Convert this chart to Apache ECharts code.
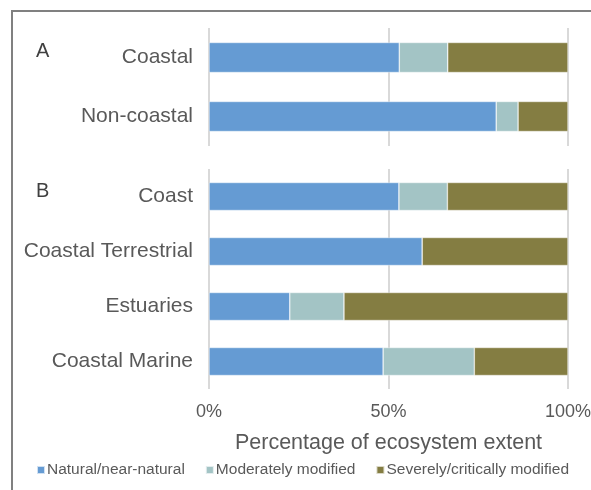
<!DOCTYPE html>
<html>
<head>
<meta charset="utf-8">
<script src="https://cdn.jsdelivr.net/npm/echarts@6/dist/echarts.min.js"></script>
<style>
html,body{margin:0;padding:0;background:#fff;}
#chart{width:591px;height:490px;}
</style>
</head>
<body>
<div id="chart"></div>
<script>
// Panel A
const categoriesA = ['Coastal', 'Non-coastal'];
const naturalA = [53.0, 80.0];
const moderateA = [13.5, 6.1];
const severeA = [33.5, 13.9];
// Panel B
const categoriesB = ['Coast', 'Coastal Terrestrial', 'Estuaries', 'Coastal Marine'];
const naturalB = [52.9, 59.4, 22.5, 48.5];
const moderateB = [13.5, 0, 15.1, 25.4];
const severeB = [33.6, 40.6, 62.4, 26.1];

const seriesNames = ['Natural/near-natural', 'Moderately modified', 'Severely/critically modified'];
const colors = ['#659BD3', '#A3C4C5', '#847D42'];
const axisTitle = 'Percentage of ecosystem extent';
const panelLabels = ['A', 'B'];

const FONT = 'Liberation Sans, Arial, sans-serif';
const chart = echarts.init(document.getElementById('chart'), null, {renderer: 'canvas'});

function mkSeries(name, data, idx, color) {
  return {
    name: name, type: 'bar', stack: 'p' + idx,
    xAxisIndex: idx, yAxisIndex: idx,
    data: data, barWidth: '51%',
    itemStyle: {color: color, borderColor: 'rgba(255,255,255,0.7)', borderWidth: 0.6},
    emphasis: {disabled: true}
  };
}

const xBase = {
  type: 'value', min: 0, max: 100, interval: 50,
  axisLine: {show: false}, axisTick: {show: false},
  splitLine: {show: true, lineStyle: {color: '#d9d9d9', width: 2}}
};
const yBase = {
  type: 'category', inverse: true,
  axisLine: {show: false}, axisTick: {show: false},
  axisLabel: {fontSize: 21, color: '#595959', fontFamily: FONT, margin: 16}
};

chart.setOption({
  animation: false,
  color: colors,
  textStyle: {fontFamily: FONT},
  grid: [
    {left: 209, right: 23, top: 28, height: 118, outerBoundsMode: 'none', containLabel: false},
    {left: 209, right: 23, top: 169, height: 220, outerBoundsMode: 'none', containLabel: false}
  ],
  xAxis: [
    Object.assign({}, xBase, {gridIndex: 0, axisLabel: {show: false}}),
    Object.assign({}, xBase, {gridIndex: 1,
      axisLabel: {show: true, fontSize: 18, color: '#595959', fontFamily: FONT, margin: 14, formatter: '{value}%'},
      name: axisTitle, nameLocation: 'middle', nameGap: 43,
      nameTextStyle: {fontSize: 21.5, color: '#595959', fontFamily: FONT}
    })
  ],
  yAxis: [
    Object.assign({}, yBase, {gridIndex: 0, data: categoriesA}),
    Object.assign({}, yBase, {gridIndex: 1, data: categoriesB})
  ],
  legend: {
    left: 36, top: 462, padding: 0, itemWidth: 8, itemHeight: 8, itemGap: 20, icon: 'rect',
    selectedMode: false,
    textStyle: {fontSize: 15.5, color: '#595959', fontFamily: FONT, padding: [0, 0, 0, -3]},
    data: seriesNames
  },
  series: [
    mkSeries(seriesNames[0], naturalA, 0, colors[0]),
    mkSeries(seriesNames[1], moderateA, 0, colors[1]),
    mkSeries(seriesNames[2], severeA, 0, colors[2]),
    mkSeries(seriesNames[0], naturalB, 1, colors[0]),
    mkSeries(seriesNames[1], moderateB, 1, colors[1]),
    mkSeries(seriesNames[2], severeB, 1, colors[2])
  ],
  graphic: [
    {type: 'polyline', shape: {points: [[12, 490], [12, 11], [591, 11]]},
     style: {stroke: '#808080', lineWidth: 2, fill: null}, silent: true},
    {type: 'text', left: 36, top: 41,
     style: {text: panelLabels[0], font: '20px ' + FONT, fill: '#404040'}},
    {type: 'text', left: 36, top: 181,
     style: {text: panelLabels[1], font: '20px ' + FONT, fill: '#404040'}}
  ]
});
</script>
</body>
</html>
